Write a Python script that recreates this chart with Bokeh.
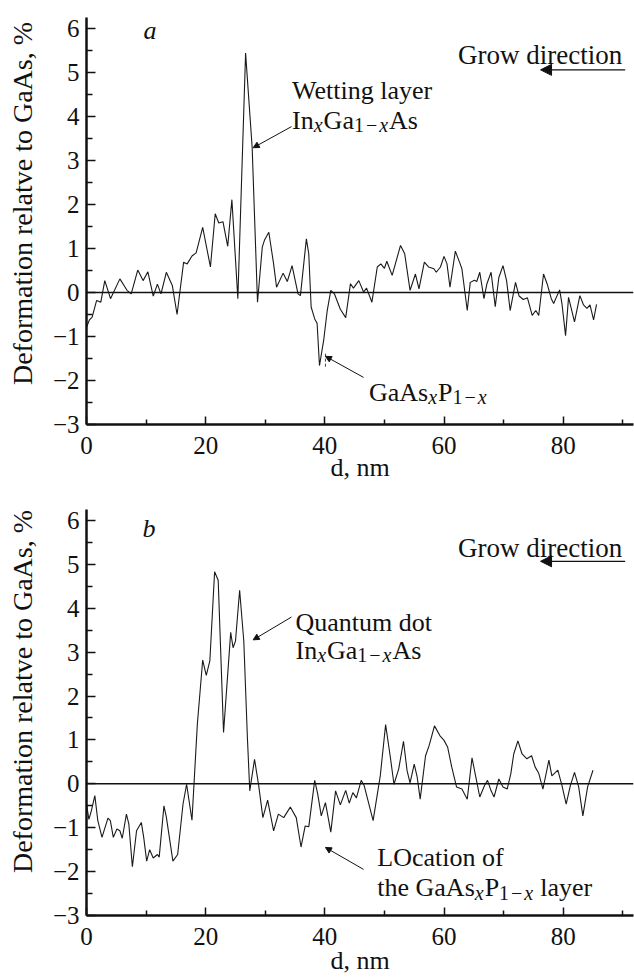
from bokeh.plotting import figure
from bokeh.models import Label, Arrow, NormalHead, Span, FixedTicker, Range1d
from bokeh.layouts import column
from bokeh.embed import file_html
from bokeh.resources import INLINE

# ---------------- data ----------------
d_a = [0.0, 0.5, 0.95, 1.7, 2.4, 3.07, 4.03, 5.6, 6.8, 7.5, 8.6, 9.5, 10.3, 11.2, 11.9, 12.5,
       13.4, 14.4, 15.2, 16.3, 16.9, 17.7, 18.4, 19.5, 20.8, 21.6, 22.2, 22.9, 23.7, 24.4, 25.4,
       26.7, 27.8, 28.7, 29.5, 29.9, 30.6, 31.4, 31.9, 33.0, 33.7, 34.5, 35.5, 35.9, 36.9, 37.3,
       37.7, 38.3, 38.7, 39.1, 39.8, 40.4, 41.0, 41.6, 42.6, 43.5, 44.3, 44.8, 45.7, 46.5, 47.0,
       47.9, 48.8, 49.4, 50.0, 50.4, 51.3, 52.7, 53.4, 54.3, 55.2, 55.8, 56.7, 57.4, 58.3, 58.7,
       59.4, 60.0, 60.5, 61.0, 61.9, 62.6, 63.0, 63.9, 64.4, 65.1, 65.5, 66.0, 66.7, 67.2, 67.9,
       68.6, 69.2, 69.9, 70.5, 71.1, 72.0, 72.6, 73.3, 74.0, 74.8, 75.4, 75.9, 76.7, 77.3, 78.0,
       78.4, 79.4, 79.8, 80.4, 80.9, 81.3, 81.9, 82.8, 83.4, 84.0, 84.5, 85.1, 85.6]
v_a = [-0.79, -0.62, -0.56, -0.18, -0.22, 0.27, -0.14, 0.31, 0.05, -0.03, 0.51, 0.27, 0.47, -0.08,
       0.19, -0.03, 0.46, 0.16, -0.50, 0.69, 0.65, 0.83, 0.90, 1.48, 0.58, 1.79, 1.58, 1.61, 1.05,
       2.11, -0.14, 5.44, 3.30, -0.22, 1.03, 1.20, 1.37, 0.65, 0.12, 0.44, 0.25, 0.61, -0.03, -0.07,
       1.22, 0.88, -0.33, -0.60, -0.70, -1.66, -1.09, -0.41, 0.05, -0.03, -0.38, -0.57, 0.20, 0.10,
       0.27, 0.01, 0.10, -0.22, 0.58, 0.65, 0.55, 0.71, 0.39, 1.07, 0.88, 0.05, 0.42, 0.08, 0.69,
       0.58, 0.54, 0.46, 0.58, 0.82, 0.65, 0.12, 0.94, 0.69, 0.54, -0.41, 0.23, 0.28, 0.25, 0.46,
       -0.14, 0.20, 0.46, -0.32, 0.34, 0.61, 0.27, -0.41, 0.23, -0.08, -0.16, -0.12, -0.52, -0.41,
       -0.52, 0.42, 0.20, -0.14, -0.25, 0.06, -0.26, -0.98, -0.11, -0.33, -0.67, -0.07, -0.28,
       -0.36, -0.28, -0.62, -0.27]

d_b = [0.0, 0.4, 0.8, 1.4, 1.9, 2.6, 3.6, 4.0, 4.5, 5.1, 5.6, 6.0, 6.7, 7.1, 7.7, 8.4, 9.2, 9.6,
       10.1, 10.6, 11.2, 11.9, 12.2, 13.0, 13.4, 14.5, 15.3, 16.2, 16.8, 17.7, 18.6, 19.5, 20.1,
       20.7, 21.5, 22.1, 23.0, 24.2, 24.6, 25.0, 25.7, 26.4, 27.0, 27.4, 28.2, 28.9, 29.6, 30.4,
       31.4, 32.2, 33.1, 34.2, 35.2, 36.0, 36.7, 37.3, 38.3, 38.8, 39.4, 40.1, 41.0, 41.8, 42.6,
       43.5, 44.1, 44.7, 45.3, 46.1, 46.6, 48.1, 49.3, 50.2, 51.0, 51.6, 52.4, 53.2, 53.8, 54.3,
       55.0, 55.5, 56.0, 56.9, 57.5, 58.4, 59.3, 60.0, 60.6, 61.3, 62.1, 63.0, 63.9, 64.7, 65.3,
       66.0, 66.8, 67.3, 67.9, 68.4, 69.2, 69.9, 70.6, 71.2, 71.7, 72.4, 73.1, 73.9, 74.7, 75.3,
       75.9, 76.6, 77.6, 78.1, 79.1, 79.8, 80.5, 81.2, 81.9, 82.6, 83.3, 84.1, 85.0]
v_b = [-0.46, -0.81, -0.62, -0.27, -0.84, -1.22, -0.78, -0.84, -1.22, -1.03, -1.07, -1.24, -0.69,
       -0.91, -1.89, -1.07, -0.88, -1.22, -1.76, -1.50, -1.69, -1.61, -1.67, -0.50, -0.76, -1.76,
       -1.61, -0.46, -0.01, -0.83, 1.35, 2.82, 2.47, 2.80, 4.83, 4.64, 1.17, 3.45, 3.10, 3.25, 4.41,
       3.25, 1.06, -0.16, 0.56, -0.04, -0.77, -0.37, -1.07, -0.69, -0.77, -0.53, -0.77, -1.44,
       -0.96, -0.98, 0.08, -0.23, -0.73, -0.43, -1.10, -0.16, -0.48, -0.15, -0.44, -0.20, -0.32,
       0.08, -0.04, -0.84, 0.18, 1.35, 0.60, -0.01, 0.34, 0.97, 0.30, 0.02, 0.45, 0.15, -0.35,
       0.64, 0.87, 1.32, 1.10, 0.99, 0.84, 0.38, -0.07, -0.12, -0.35, 0.59, 0.18, -0.30, -0.04,
       0.08, -0.16, -0.30, 0.11, -0.07, -0.12, 0.22, 0.68, 0.98, 0.68, 0.57, 0.64, 0.38, 0.24,
       -0.12, 0.54, 0.18, 0.31, -0.04, -0.46, -0.04, 0.26, -0.07, -0.73, -0.07, 0.31]

x_major = [0, 20, 40, 60, 80]
x_minor = [10, 30, 50, 70, 90]
y_major = [-3, -2, -1, 0, 1, 2, 3, 4, 5, 6]
y_minor = [-2.5, -1.5, -0.5, 0.5, 1.5, 2.5, 3.5, 4.5, 5.5]
y_overrides = {-3: "\u22123", -2: "\u22122", -1: "\u22121"}

y_title = "Deformation relatve to GaAs, %"
x_title = "d, nm"
panel_letters = ["a", "b"]

# ---------------- styling helpers ----------------
SERIF = "Liberation Serif"
INK = "#111111"
ADV = {' ': .25, ',': .25, '%': .833, '\u2212': .564, '1': .5, 'A': .722, 'G': .722, 'I': .333,
       'L': .611, 'O': .722, 'P': .556, 'Q': .722, 'W': .944, 'a': .444, 'c': .444, 'd': .5,
       'e': .444, 'f': .333, 'g': .5, 'h': .5, 'i': .278, 'l': .278, 'm': .778, 'n': .5, 'o': .5,
       'r': .333, 's': .389, 't': .278, 'u': .5, 'y': .5, 'x': .5}
MAIN = 26
SUB = 20


def width(text, size, italic=False):
    w = 0.0
    for c in text:
        if italic and c == 'x':
            w += .444
        else:
            w += ADV.get(c, .5)
    return w * size


def rich(p, x, y, pieces, ppu, drop=5):
    off = 0.0
    for text, kind, gap in pieces:
        size = MAIN if kind == 'n' else SUB
        italic = kind == 'si'
        yy = y if kind == 'n' else y - drop / ppu
        p.add_layout(Label(x=x, y=yy, x_offset=off, text=text, text_font=SERIF,
                           text_font_size=f"{size}px",
                           text_font_style="italic" if italic else "normal",
                           text_baseline="alphabetic", text_align="left", text_color=INK))
        off += width(text, size, italic) + gap


def text(p, x, y, s, size=MAIN, style="normal", align="left"):
    p.add_layout(Label(x=x, y=y, text=s, text_font=SERIF, text_font_size=f"{size}px",
                       text_font_style=style, text_align=align, text_baseline="alphabetic",
                       text_color=INK))


def make_fig(height, top, bottom, lead, xlab_standoff):
    p = figure(width=634, height=height, x_range=Range1d(0, 91.8), y_range=Range1d(-3, 6.25),
               output_backend="svg", toolbar_location=None, min_border_left=86,
               min_border_right=1, min_border_top=top, min_border_bottom=bottom)
    p.outline_line_color = None
    p.grid.visible = False
    p.background_fill_color = "white"
    p.border_fill_color = "white"
    p.xaxis.ticker = FixedTicker(ticks=x_major, minor_ticks=x_minor)
    p.yaxis.ticker = FixedTicker(ticks=y_major, minor_ticks=y_minor)
    p.yaxis.major_label_overrides = y_overrides
    for ax in (p.xaxis, p.yaxis):
        ax.axis_line_width = 2.5
        ax.axis_line_color = INK
        ax.major_tick_line_color = INK
        ax.minor_tick_line_color = INK
        ax.major_tick_line_width = 1.5
        ax.minor_tick_line_width = 1.5
        ax.major_tick_out = 0
        ax.minor_tick_out = 0
        ax.major_label_text_font = SERIF
        ax.major_label_text_font_size = "25px"
        ax.major_label_text_color = INK
        ax.axis_label_text_font = SERIF
        ax.axis_label_text_font_style = "normal"
        ax.axis_label_text_color = INK
    p.xaxis.major_tick_in = 8
    p.xaxis.minor_tick_in = 5
    p.yaxis.major_tick_in = 9
    p.yaxis.minor_tick_in = 6
    p.xaxis.major_label_standoff = 12
    p.yaxis.major_label_standoff = 7
    # axis titles (leading no-break spaces lift the rotated title like in the original)
    p.yaxis.axis_label = "\u00a0" * lead + y_title
    p.yaxis.axis_label_text_font_size = "28px"
    p.yaxis.axis_label_standoff = 12
    p.xaxis.axis_label = x_title
    p.xaxis.axis_label_text_font_size = "26px"
    p.xaxis.axis_label_standoff = xlab_standoff
    p.add_layout(Span(location=0, dimension="width", line_color=INK, line_width=1.5))
    return p


def grow(p, y_text, y_arrow):
    text(p, 89.9, y_text, "Grow direction", size=27, align="right")
    p.add_layout(Arrow(x_start=90.4, y_start=y_arrow, x_end=76.2, y_end=y_arrow,
                       line_color=INK, line_width=1.3,
                       end=NormalHead(size=11, fill_color=INK, line_color=INK, line_width=1)))


def pointer(p, x0, y0, x1, y1):
    p.add_layout(Arrow(x_start=x0, y_start=y0, x_end=x1, y_end=y1, line_color=INK, line_width=1,
                       end=NormalHead(size=6, fill_color=INK, line_color=INK, line_width=1)))


# ---------------- panel a ----------------
pa = make_fig(490, 17, 66, 5, -4)
pa.line(d_a, v_a, line_color="#1a1a1a", line_width=1.1)
text(pa, 9.56, 5.95, panel_letters[0], style="italic")
grow(pa, 5.39, 5.06)
text(pa, 34.5, 4.59, "Wetting layer")
rich(pa, 34.5, 3.91, [("In", 'n', 0), ("x", 'si', 1), ("Ga", 'n', 0), ("1", 's', 2),
                      ("\u2212", 's', 2), ("x", 'si', 1), ("As", 'n', 0)], 44)
pointer(pa, 34.4, 3.77, 27.97, 3.29)
rich(pa, 47.4, -2.27, [("GaAs", 'n', 0), ("x", 'si', 1), ("P", 'n', 0), ("1", 's', 2),
                       ("\u2212", 's', 2), ("x", 'si', 0)], 44)
pointer(pa, 46.5, -1.93, 40.1, -1.45)
pa.segment(x0=[40.1], y0=[-1.39], x1=[40.1], y1=[-1.73], line_color=INK, line_width=0.8,
           line_dash="3 2")

# ---------------- panel b ----------------
pb = make_fig(490, 19, 65, 6, -2)
pb.line(d_b, v_b, line_color="#1a1a1a", line_width=1.1)
text(pb, 9.4, 5.82, panel_letters[1], style="italic")
grow(pb, 5.37, 5.07)
text(pb, 35.07, 3.68, "Quantum dot")
rich(pb, 35.07, 3.04, [("In", 'n', 0), ("x", 'si', 1), ("Ga", 'n', 0), ("1", 's', 2),
                       ("\u2212", 's', 2), ("x", 'si', 1), ("As", 'n', 0)], 43.8)
pointer(pb, 34.4, 3.80, 27.97, 3.28)
text(pb, 48.8, -1.68, "LOcation of")
rich(pb, 48.8, -2.37, [("the GaAs", 'n', 0), ("x", 'si', 1), ("P", 'n', 0), ("1", 's', 2),
                       ("\u2212", 's', 2), ("x", 'si', 7), ("layer", 'n', 0)], 43.8)
pointer(pb, 46.5, -1.95, 40.1, -1.45)

layout = column(pa, pb)
open("out.html", "w").write(file_html(layout, INLINE))
